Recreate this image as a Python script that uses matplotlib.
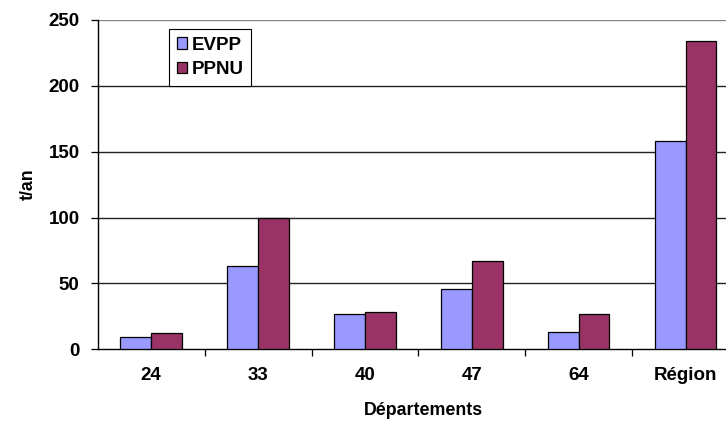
import matplotlib
matplotlib.use("Agg")
import matplotlib.pyplot as plt
import numpy as np

plt.rcParams['font.family'] = ['Liberation Sans', 'DejaVu Sans']
plt.rcParams['font.weight'] = 'bold'

categories = ["24", "33", "40", "47", "64", "Région"]
evpp = [9, 63, 27, 46, 13, 158]
ppnu = [12, 100, 28, 67, 27, 234]
y_ticks = [0, 50, 100, 150, 200, 250]

W, H = 726, 421
fig = plt.figure(figsize=(W / 100, H / 100), dpi=100)
# plot area: left edge at 98 px, runs past the right border of the image
left, right = 97.7, 97.7 + 6 * 106.9
top, bottom = 20.0, 349.3
ax = fig.add_axes([left / W, 1 - bottom / H, (right - left) / W, (bottom - top) / H])

x = np.arange(len(categories))
w = 0.287
ax.bar(x - w / 2, evpp, w, color="#9999FF", edgecolor="black", linewidth=0.9,
       label="EVPP", zorder=3)
ax.bar(x + w / 2, ppnu, w, color="#993366", edgecolor="black", linewidth=0.9,
       label="PPNU", zorder=3)

ax.set_xlim(-0.5, len(categories) - 0.5)
ax.set_ylim(0, 250)

ax.set_yticks(y_ticks)
ax.set_yticklabels([str(v) for v in y_ticks], fontsize=13.5, fontweight='bold')
ax.tick_params(axis='y', direction='out', length=5, width=0.9, pad=8)

ax.set_xticks(x)
ax.set_xticklabels(categories, fontsize=13.5, fontweight='bold')
ax.set_xticks(np.arange(0.5, len(categories)), minor=True)
ax.tick_params(axis='x', which='major', length=0, pad=13)
ax.tick_params(axis='x', which='minor', direction='out', length=5, width=0.9)

for v in y_ticks[1:]:
    ax.axhline(v, color="#222222" if v < 250 else "#888888", linewidth=1.0, zorder=1)

for s in ["top", "right"]:
    ax.spines[s].set_visible(False)
for s in ["left", "bottom"]:
    ax.spines[s].set_linewidth(1.0)
    ax.spines[s].set_color("black")

fig.text(423 / W, 1 - 415 / H, "Départements", fontsize=12.8, fontweight='bold',
         ha='center', va='baseline')
fig.text(28 / W, 1 - 184 / H, "t/an", fontsize=12.8, fontweight='bold',
         ha='center', va='center', rotation=90)

leg = ax.legend(loc="upper left", bbox_to_anchor=(169 / W, 1 - 29 / H),
                bbox_transform=fig.transFigure, borderaxespad=0,
                fancybox=False, framealpha=1, edgecolor="black",
                prop={'size': 13.5, 'weight': 'bold'},
                handlelength=0.55, handleheight=0.55, handletextpad=0.25,
                borderpad=0.4, labelspacing=0.42)
leg.get_frame().set_linewidth(0.8)

fig.savefig("out.png", dpi=100)
